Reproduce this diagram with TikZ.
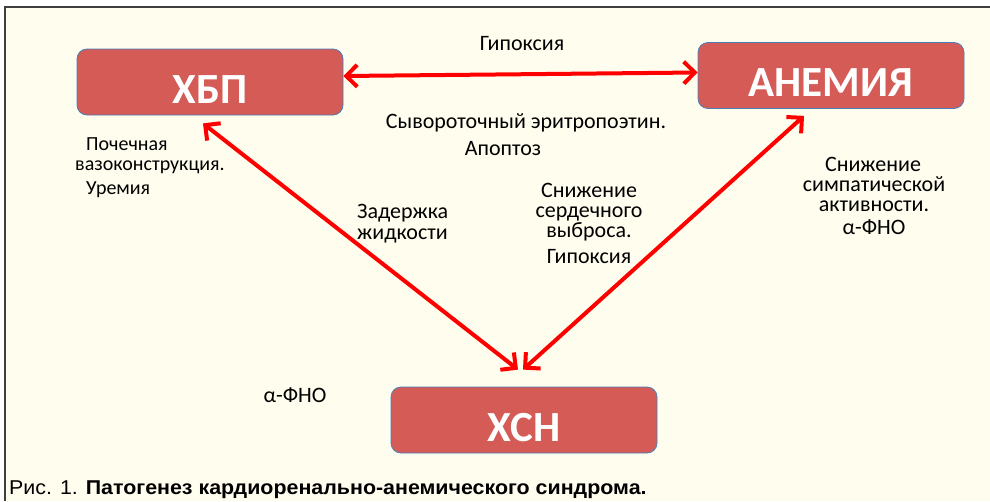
\documentclass[tikz,border=0pt]{standalone}
\usepackage{fontspec}
\setmainfont{Carlito}
\newfontfamily\capfont[FakeStretch=1.07]{Liberation Sans}
\usetikzlibrary{arrows.meta,calc}
\definecolor{cream}{HTML}{FFFDEE}
\definecolor{boxfill}{HTML}{D45B56}
\definecolor{boxline}{HTML}{4A7EBB}
\definecolor{framec}{HTML}{3F3F3F}
\begin{document}
\begin{tikzpicture}[x=1pt,y=-1pt,
  box/.style={draw=boxline, line width=0.8pt, fill=boxfill, rounded corners=10pt,
    minimum width=266pt, minimum height=66pt, inner sep=0pt, text=white,
    text height=42pt, text depth=0pt,
    font=\fontsize{43}{43}\selectfont\bfseries},
  arr/.style={draw=red, line width=4pt,
    {Straight Barb[length=11pt,width=22pt]}-{Straight Barb[length=11pt,width=22pt]}},
  lbl/.style={font=\fontsize{22}{22}\selectfont, inner sep=0pt, anchor=base,
    text height=14pt, text depth=3pt},
  lblw/.style={lbl, anchor=base west},
  lbls/.style={font=\fontsize{20}{20}\selectfont, inner sep=0pt, anchor=base west,
    text height=13pt, text depth=3pt},
]
\useasboundingbox (0,0) rectangle (990,501);
\fill[white] (0,0) rectangle (990,501);
\fill[cream] (5,7) rectangle (990,501);
\draw[framec, line width=2pt] (5,501) -- (5,7) -- (990,7);

\node[box] (xbp) at (210,82) {ХБП};
\node[box] (anem) at (831,75.5) {АНЕМИЯ};
\node[box] (xsn) at (524,420) {ХСН};

\draw[arr] ($(xbp.east)+(0,-6)$) -- ($(anem.west)+(0,-3)$);
\draw[arr] ($(xbp.south)+(-7,8)$) -- ($(xsn.north)+(-6,-17)$);
\draw[arr] ($(anem.south)+(-27,7)$) -- ($(xsn.north)+(-1,-17)$);

\node[lbl] (t1) at (522,50) {Гипоксия};
\node[lbl] (t2) at (526,128) {Сывороточный эритропоэтин.};
\node[lbl] (t3) at (503,155) {Апоптоз};

\node[lbls] (l1) at (86,150) {Почечная};
\node[lbls] (l2) at (75,170) {вазоконструкция.};
\node[lbls] (l3) at (86,194) {Уремия};

\node[lblw] (z1) at (357,218) {Задержка};
\node[lblw] (z2) at (357,239) {жидкости};

\node[lbl] (s1) at (589,197) {Снижение};
\node[lbl] (s2) at (589,217) {сердечного};
\node[lbl] (s3) at (589,237) {выброса.};
\node[lbl] (s4) at (589,263) {Гипоксия};

\node[lbl] (r1) at (873,171) {Снижение};
\node[lbl] (r2) at (874,191) {симпатической};
\node[lbl] (r3) at (874,211) {активности.};
\node[lbl] (r4) at (874,234) {α-ФНО};

\node[lbl] (a1) at (295,402) {α-ФНО};

\node[anchor=base west, inner sep=0pt, font=\capfont\fontsize{20}{20}\selectfont] (cap) at (9,494)
  {Рис. 1. \textbf{Патогенез кардиоренально-анемического синдрома.}};
\end{tikzpicture}
\end{document}
